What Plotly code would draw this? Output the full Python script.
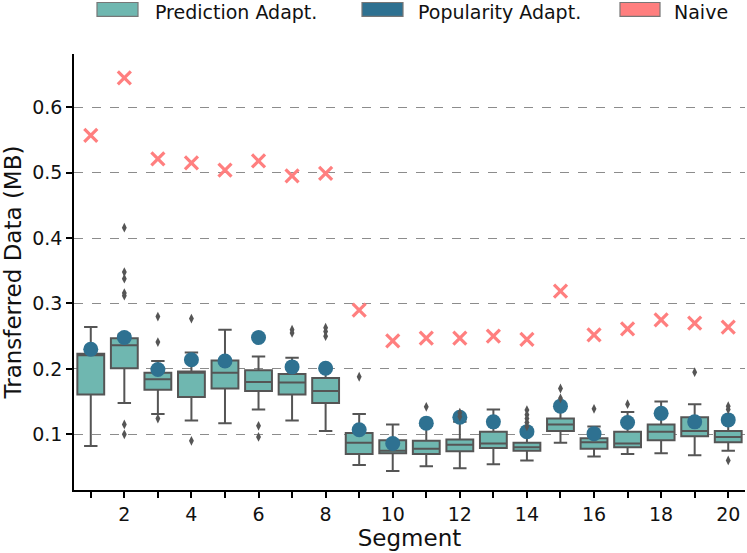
import plotly.graph_objects as go

# Segment numbers and tick labels (only even ones are labelled)
segments = list(range(1, 21))
tick_text = [str(s) if s % 2 == 0 else "" for s in segments]

# Prediction Adapt. box statistics per segment (MB)
lower_whisker = [0.082, 0.148, 0.131, 0.121, 0.117, 0.138, 0.121, 0.105, 0.053, 0.044,
                 0.051, 0.048, 0.054, 0.060, 0.087, 0.066, 0.070, 0.071, 0.068, 0.075]
q1 = [0.161, 0.201, 0.168, 0.157, 0.170, 0.166, 0.161, 0.148, 0.070, 0.071,
      0.070, 0.074, 0.079, 0.075, 0.105, 0.078, 0.080, 0.091, 0.097, 0.088]
median = [0.221, 0.236, 0.184, 0.194, 0.194, 0.180, 0.179, 0.166, 0.087, 0.075,
          0.078, 0.084, 0.086, 0.080, 0.115, 0.088, 0.086, 0.104, 0.105, 0.096]
q3 = [0.223, 0.247, 0.194, 0.196, 0.213, 0.198, 0.192, 0.186, 0.102, 0.091,
      0.090, 0.092, 0.104, 0.087, 0.124, 0.094, 0.104, 0.115, 0.126, 0.105]
upper_whisker = [0.264, 0.253, 0.212, 0.225, 0.260, 0.219, 0.217, 0.203, 0.131, 0.115,
                 0.113, 0.119, 0.138, 0.104, 0.146, 0.112, 0.134, 0.150, 0.146, 0.122]

# outliers of the Prediction Adapt. boxes
outlier_seg = [2, 2, 2, 2, 2, 2, 2, 3, 3, 3, 4, 4, 6, 6, 7, 7, 8, 8, 8, 9, 11, 12, 12,
               14, 14, 14, 14, 14, 15, 15, 16, 17, 19, 20, 20, 20]
outlier_val = [0.416, 0.348, 0.338, 0.316, 0.312, 0.115, 0.100, 0.280, 0.241, 0.124,
               0.277, 0.090, 0.113, 0.096, 0.260, 0.255, 0.263, 0.257, 0.250, 0.188,
               0.142, 0.133, 0.127, 0.137, 0.130, 0.124, 0.118, 0.112, 0.170, 0.155,
               0.139, 0.146, 0.195, 0.143, 0.138, 0.060]

# Popularity Adapt. and Naive values per segment (MB)
popularity = [0.230, 0.248, 0.199, 0.214, 0.212, 0.248, 0.203, 0.201, 0.107, 0.086,
              0.117, 0.126, 0.119, 0.104, 0.143, 0.101, 0.118, 0.132, 0.119, 0.122]
naive = [0.557, 0.645, 0.521, 0.515, 0.504, 0.518, 0.495, 0.499, 0.290, 0.243,
         0.247, 0.247, 0.250, 0.245, 0.319, 0.252, 0.261, 0.275, 0.270, 0.264]

legend_names = ["Prediction Adapt.", "Popularity Adapt.", "Naive"]

c_pred = "#6fb7b0"
c_pop = "#2e7191"
c_naive = "#ff7f7f"
c_edge = "#555555"
FONT = "DejaVu Sans"

fig = go.Figure()

fig.add_trace(go.Box(
    x=segments, q1=q1, median=median, q3=q3,
    lowerfence=lower_whisker, upperfence=upper_whisker,
    fillcolor=c_pred, line=dict(color=c_edge, width=2),
    width=0.8, whiskerwidth=0.5, boxpoints=False, showlegend=False,
))
fig.add_trace(go.Scatter(
    x=segments, y=popularity, mode="markers",
    marker=dict(size=15, color=c_pop), showlegend=False,
))
fig.add_trace(go.Scatter(
    x=outlier_seg, y=outlier_val, mode="markers",
    marker=dict(symbol="diamond-tall", size=7, color=c_edge), showlegend=False,
))
fig.add_trace(go.Scatter(
    x=segments, y=naive, mode="markers",
    marker=dict(symbol="x-thin", size=13, line=dict(color=c_naive, width=3.2)),
    showlegend=False,
))

# legend drawn above the axes (pixel positions converted to paper coords)
W, H = 747, 553
ml, mr, mt, mb = 74, 2, 54, 63
pw, ph = W - ml - mr, H - mt - mb


def px(x):
    return (x - ml) / pw


def py(y):
    return (H - mb - y) / ph


patches = [(97, 138), (362, 403), (620, 660)]
text_x = [154, 417, 673]
for (x0, x1), tx, name, col in zip(patches, text_x, legend_names, [c_pred, c_pop, c_naive]):
    fig.add_shape(type="rect", xref="paper", yref="paper",
                  x0=px(x0), x1=px(x1), y0=py(16.3), y1=py(2.5),
                  fillcolor=col, line=dict(color="#777777", width=1.2))
    fig.add_annotation(xref="paper", yref="paper", x=px(tx), y=py(0),
                       text=name, showarrow=False, xanchor="left", yanchor="top",
                       borderpad=0,
                       font=dict(family=FONT, size=19, color="#111111"))

fig.update_layout(
    width=W, height=H,
    margin=dict(l=ml, r=mr, t=mt, b=mb),
    plot_bgcolor="white", paper_bgcolor="white",
    font=dict(family=FONT, size=19, color="#111111"),
    showlegend=False,
)
fig.update_xaxes(
    range=[0.5, 20.5], tickvals=segments, ticktext=tick_text,
    showline=True, linecolor="black", linewidth=1.5,
    ticks="outside", ticklen=6, tickwidth=1.5, tickcolor="black",
    showgrid=False, zeroline=False,
    title=dict(text="Segment", standoff=4),
)
fig.update_yaxes(
    range=[0.0148, 0.6815], tickvals=[0.1, 0.2, 0.3, 0.4, 0.5, 0.6],
    showline=True, linecolor="black", linewidth=1.5,
    ticks="outside", ticklen=6, tickwidth=1.5, tickcolor="black",
    showgrid=True, gridcolor="#8c8c8c", gridwidth=1.3, griddash="dash",
    zeroline=False,
    title=dict(text="Transferred Data (MB)", standoff=8),
)

# page body has a default 8px margin; drop it so the figure fills the window
fig.write_html("out.html", config={"displayModeBar": False},
               post_script="document.body.style.margin='0px';")
